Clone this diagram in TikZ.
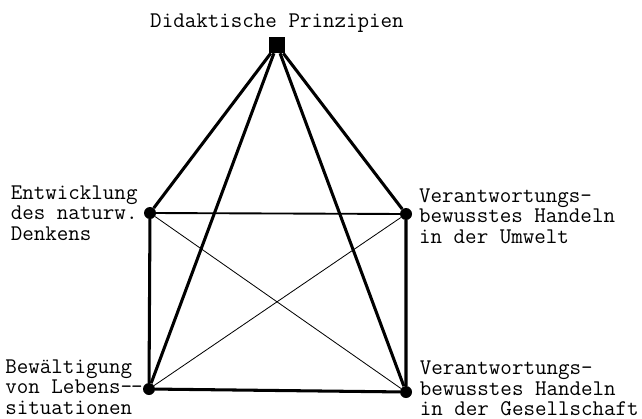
\documentclass[tikz,border=0pt]{standalone}
\usepackage{fontspec}
\usepackage{tikz}
\usetikzlibrary{positioning}

\begin{document}
\begin{tikzpicture}[x=0.03cm,y=-0.03cm,every node/.style={font=\ttfamily\fontsize{19.1}{17.4}\selectfont,align=left,inner sep=0pt},dot/.style={circle,fill=black,minimum size=0.36cm},apex/.style={rectangle,fill=black,minimum width=0.5cm,minimum height=0.48cm},heavy/.style={line width=2.6pt},medium/.style={line width=1.6pt},light/.style={line width=0.7pt}]
\useasboundingbox (0,0) rectangle (642,419);
\node[apex] (dp) at (277,45) {};
\node[dot] (ent) at (150,213) {};
\node[dot] (umw) at (406,214) {};
\node[dot] (bew) at (149,389) {};
\node[dot] (ges) at (406,392) {};
\node[above=0.12cm of dp] (dpt) {Didaktische Prinzipien};
\node[left=0.18cm of ent] (entt) {Entwicklung\\des naturw.\\Denkens};
\node[right=0.2cm of umw,yshift=-0.06cm] (umwt) {Verantwortungs-\\bewusstes Handeln\\in der Umwelt};
\node[left=0.0cm of bew,yshift=0.06cm] (bewt) {Bewältigung\\von Lebens-\kern-0.05em-\\situationen};
\node[right=0.22cm of ges,yshift=0.1cm] (gest) {Verantwortungs-\\bewusstes Handeln\\in der Gesellschaft};
\foreach \c in {ent,umw,bew,ges} \draw[heavy] (dp) -- (\c);
\draw[medium] (ent) -- (umw);
\draw[heavy] (ent) -- (bew) -- (ges) -- (umw);
\draw[light] (ent) -- (ges);
\draw[light] (bew) -- (umw);
\end{tikzpicture}
\end{document}
